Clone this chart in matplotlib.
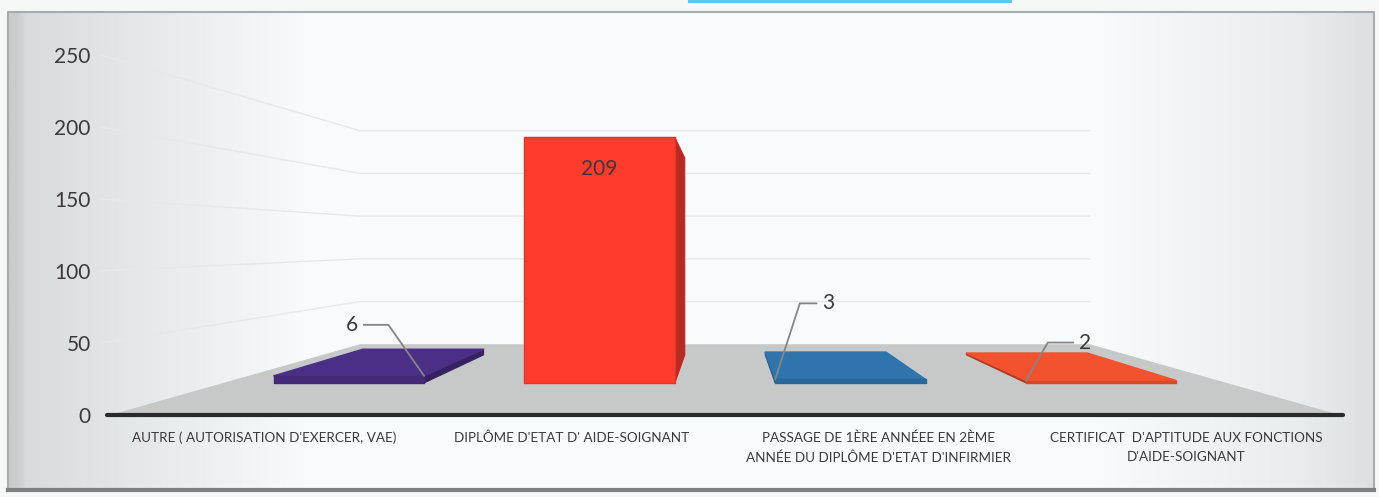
import numpy as np
import matplotlib
matplotlib.use("Agg")
import matplotlib.pyplot as plt
from matplotlib.patches import Polygon

plt.rcParams['font.family'] = ['Lato', 'DejaVu Sans']

# données
categories = ["AUTRE ( AUTORISATION D'EXERCER, VAE)",
              "DIPLÔME D'ETAT D' AIDE-SOIGNANT",
              "PASSAGE DE 1ÈRE ANNÉEE EN 2ÈME\nANNÉE DU DIPLÔME D'ETAT D'INFIRMIER",
              "CERTIFICAT  D'APTITUDE AUX FONCTIONS\nD'AIDE-SOIGNANT"]
values = [6, 209, 3, 2]
colors = ["#4b2f86", "#ff3b2e", "#2f74ad", "#f2522d"]
yticks = [0, 50, 100, 150, 200, 250]

# perspective (point de fuite au centre)
VX, VY, K = 1.5, 120.8, 0.686
Z1, Z2 = 0.33, 0.77
W = 0.6


def proj(x, v, z):
    s = 1.0 / (1.0 + K * z)
    return VX + (x - VX) * s, VY + (v - VY) * s


def face(pts, **kw):
    return Polygon([proj(*p) for p in pts], closed=True, clip_on=False, **kw)


def darker(c, f):
    r, g, b = matplotlib.colors.to_rgb(c)
    return (r * f, g * f, b * f)


W_PX, H_PX = 1379, 497
fig = plt.figure(figsize=(W_PX / 100, H_PX / 100), dpi=100)
fig.patch.set_facecolor('#f6f7f7')

# fond (cadre biseauté)
bg = fig.add_axes([0, 0, 1, 1], zorder=-5)
bg.set_xlim(0, W_PX)
bg.set_ylim(H_PX, 0)
bg.axis('off')
xs = np.arange(W_PX)
prof = np.interp(xs, [8, 18, 60, 300, 1100, 1300, 1374],
                 [0.80, 0.86, 0.88, 0.985, 0.985, 0.93, 0.88])
img = np.stack([prof * 0.985, prof, prof], axis=-1)[None, :, :]
bg.imshow(img, extent=(8, 1374, 490, 12), aspect='auto')
bg.plot([8, 8, 1374, 1374], [490, 12, 12, 490], color='#a8acad', lw=1.5)
bg.plot([8, 1374], [490, 490], color='#7d8080', lw=3)
bg.plot([690, 1010], [1, 1], color='#5fc8ea', lw=3)

ax = fig.add_axes([110 / W_PX, 82 / H_PX, 1230 / W_PX, 360 / H_PX])
ax.set_xlim(-0.5, 3.5)
ax.set_ylim(0, 250)
ax.patch.set_alpha(0)
for sp in ax.spines.values():
    sp.set_visible(False)

# sol
ax.add_patch(face([(-0.5, 0, 0), (3.5, 0, 0), (3.5, 0, 1), (-0.5, 0, 1)],
                  facecolor='#c7c8c8', edgecolor='none', zorder=1))

# quadrillage (paroi gauche + paroi du fond)
for t in yticks[1:]:
    x0, y0 = proj(-0.5, t, 0)
    x1, y1 = proj(-0.5, t, 1)
    x2, y2 = proj(3.5, t, 1)
    ax.plot([x0 - 0.03, x1, x2], [y0, y1, y2], color='#e6e8e9', lw=1,
            zorder=0.5, clip_on=False)

# barres 3D
for i, (v, c) in enumerate(zip(values, colors)):
    l, r = i - W / 2, i + W / 2
    xs_side = r if i < VX else l
    ax.add_patch(face([(xs_side, 0, Z1), (xs_side, 0, Z2), (xs_side, v, Z2), (xs_side, v, Z1)],
                      facecolor=darker(c, 0.72), edgecolor=darker(c, 0.72), lw=0.8, zorder=3))
    if v < VY:
        ax.add_patch(face([(l, v, Z1), (r, v, Z1), (r, v, Z2), (l, v, Z2)],
                          facecolor=c, edgecolor=c, lw=1, joinstyle='round', zorder=3))
    ax.add_patch(face([(l, 0, Z1), (r, 0, Z1), (r, v, Z1), (l, v, Z1)],
                      facecolor=c if v > VY else darker(c, 0.9),
                      edgecolor=darker(c, 0.88), lw=1, joinstyle='round', zorder=4))

# axe horizontal
ax.plot([-0.51, 3.51], [0, 0], color='#2a2a2a', lw=3, zorder=5,
        solid_capstyle='round', clip_on=False)

# étiquettes de données
ax.annotate(str(values[1]), xy=proj(1, values[1], Z1), xytext=(0, -32),
            textcoords='offset pixels', ha='center', va='center',
            fontsize=15, color='#3a3a3a', zorder=6)

leaders = [(0, W / 2, (-66, 51), 'right', 125),
           (2, -W / 2, (47, 76), 'left', 72),
           (3, -W / 2, (53, 38), 'left', 60)]
for i, dx, off, ha, ang in leaders:
    ax.annotate(str(values[i]), xy=proj(i + dx, values[i], Z1), xytext=off,
                textcoords='offset pixels', ha=ha, va='center',
                fontsize=15, color='#3a3a3a', zorder=6,
                arrowprops=dict(arrowstyle='-', color='#858585', lw=1.3,
                                relpos=(1, 0.5) if ha == 'right' else (0, 0.5),
                                shrinkA=2, shrinkB=0,
                                connectionstyle='angle,angleA=0,angleB=%d,rad=0' % ang))

ax.set_yticks(yticks)
ax.set_yticklabels([str(t) for t in yticks], fontsize=15, color='#3a3a3a')
ax.set_xticks(range(len(categories)))
ax.set_xticklabels(categories, fontsize=9.7, color='#3a3a3a', linespacing=1.7)
ax.tick_params(axis='y', length=0, pad=14)
ax.tick_params(axis='x', length=0, pad=12)

fig.savefig('out.png', dpi=100)
